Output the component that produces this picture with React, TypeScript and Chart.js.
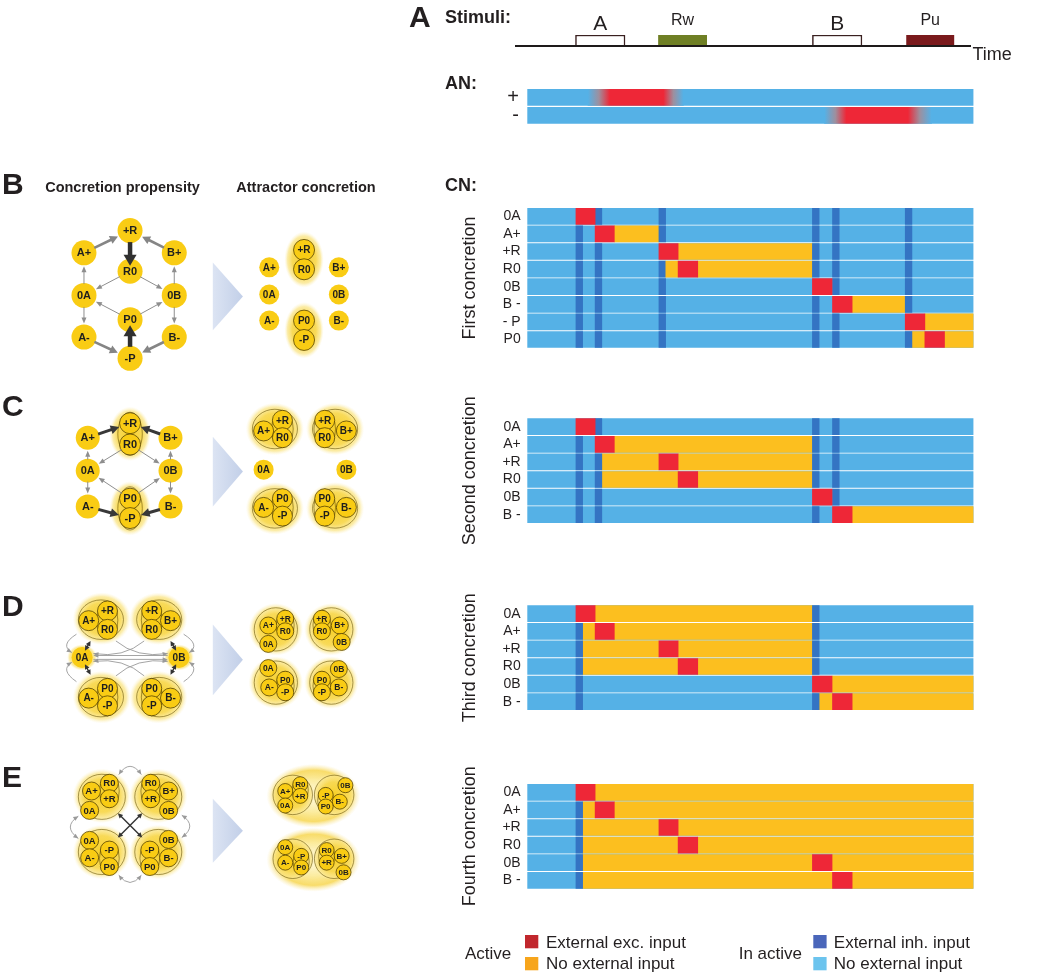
import React, { useEffect, useRef } from 'react';
import { Chart, registerables } from 'chart.js';

Chart.register(...registerables);

const FONT = '"Liberation Sans", Arial, Helvetica, sans-serif';
Chart.defaults.font.family = FONT;

// ---------------- colours ----------------
const C_IDLE = '#55B1E6';
const C_INH = '#3474C3';
const C_EXC = '#EE2737';
const C_ACT = '#FCBF1F';
const C_TEXT = '#231F20';
const C_NODE = '#F9CC14';

// ---------------- time axis ----------------
const X_LEFT = 527.3;
const X_RIGHT = 973.5;

// ---------------- stimuli ----------------
const stimLabels = ['A', 'Rw', 'B', 'Pu'];
const stimSpans: [number, number][] = [[10.8, 21.9], [29.4, 40.2], [63.9, 75.0], [85.0, 95.6]];
const stimFill = ['#FFFFFF', '#6F7F24', '#FFFFFF', '#7A1A1C'];

// ---------------- AN ----------------
const anRows = ['+', '-'];
const anRamps = [[13.6, 18.5, 30.5, 35.0], [66.6, 71.5, 85.3, 90.6]];

// ---------------- CN: first concretion ----------------
const rows1 = ['0A', 'A+', '+R', 'R0', '0B', 'B -', '- P', 'P0'];
const exc1: [number, number][] = [[10.9, 15.2], [15.2, 19.5], [29.5, 33.8], [33.8, 38.2], [63.9, 68.3], [68.4, 72.8], [84.7, 89.1], [89.1, 93.5]];
const act1: [number, number][][] = [
  [], [[19.5, 29.5]], [[33.8, 63.9]], [[30.9, 33.8], [38.2, 63.9]], [], [[72.8, 84.7]], [[89.1, 100]], [[86.2, 89.1], [93.5, 100]],
];
const inh1: [number, number][][] = [
  [[15.2, 16.7], [29.5, 31.0], [63.9, 65.4], [68.4, 69.9], [84.7, 86.2]],
  [[10.9, 12.4], [29.5, 31.0], [63.9, 65.4], [68.4, 69.9], [84.7, 86.2]],
  [[10.9, 12.4], [15.2, 16.7], [63.9, 65.4], [68.4, 69.9], [84.7, 86.2]],
  [[10.9, 12.4], [15.2, 16.7], [29.5, 30.9], [63.9, 65.4], [68.4, 69.9], [84.7, 86.2]],
  [[10.9, 12.4], [15.2, 16.7], [29.5, 31.0], [68.4, 69.9], [84.7, 86.2]],
  [[10.9, 12.4], [15.2, 16.7], [29.5, 31.0], [63.9, 65.4], [84.7, 86.2]],
  [[10.9, 12.4], [15.2, 16.7], [29.5, 31.0], [63.9, 65.4], [68.4, 69.9]],
  [[10.9, 12.4], [15.2, 16.7], [29.5, 31.0], [63.9, 65.4], [68.4, 69.9], [84.7, 86.2]],
];

// ---------------- CN: second concretion ----------------
const rows2 = ['0A', 'A+', '+R', 'R0', '0B', 'B -'];
const exc2: [number, number][] = [[10.9, 15.2], [15.2, 19.5], [29.5, 33.8], [33.8, 38.2], [63.9, 68.3], [68.4, 72.8]];
const act2: [number, number][][] = [
  [], [[19.5, 63.9]], [[16.7, 29.5], [33.8, 63.9]], [[16.7, 33.8], [38.2, 63.9]], [], [[72.8, 100]],
];
const inh2: [number, number][][] = [
  [[15.2, 16.7], [63.9, 65.4], [68.4, 69.9]],
  [[10.9, 12.4], [63.9, 65.4], [68.4, 69.9]],
  [[10.9, 12.4], [15.2, 16.7], [63.9, 65.4], [68.4, 69.9]],
  [[10.9, 12.4], [15.2, 16.7], [63.9, 65.4], [68.4, 69.9]],
  [[10.9, 12.4], [15.2, 16.7], [68.4, 69.9]],
  [[10.9, 12.4], [15.2, 16.7], [63.9, 65.4]],
];

// ---------------- CN: third concretion ----------------
const rows3 = ['0A', 'A+', '+R', 'R0', '0B', 'B -'];
const exc3: [number, number][] = [[10.9, 15.2], [15.2, 19.5], [29.5, 33.8], [33.8, 38.2], [63.9, 68.3], [68.4, 72.8]];
const act3: [number, number][][] = [
  [[15.2, 63.9]], [[12.4, 15.2], [19.5, 63.9]], [[12.4, 29.5], [33.8, 63.9]], [[12.4, 33.8], [38.2, 63.9]], [[68.3, 100]], [[65.4, 68.4], [72.8, 100]],
];
const inh3: [number, number][][] = [
  [[63.9, 65.4]], [[10.9, 12.4], [63.9, 65.4]], [[10.9, 12.4], [63.9, 65.4]], [[10.9, 12.4], [63.9, 65.4]], [[10.9, 12.4]], [[10.9, 12.4], [63.9, 65.4]],
];

// ---------------- CN: fourth concretion ----------------
const rows4 = ['0A', 'A+', '+R', 'R0', '0B', 'B -'];
const exc4: [number, number][] = [[10.9, 15.2], [15.2, 19.5], [29.5, 33.8], [33.8, 38.2], [63.9, 68.3], [68.4, 72.8]];
const act4: [number, number][][] = [
  [[15.2, 100]], [[12.4, 15.2], [19.5, 100]], [[12.4, 29.5], [33.8, 100]], [[12.4, 33.8], [38.2, 100]], [[12.4, 63.9], [68.3, 100]], [[12.4, 68.4], [72.8, 100]],
];
const inh4: [number, number][][] = [
  [], [[10.9, 12.4]], [[10.9, 12.4]], [[10.9, 12.4]], [[10.9, 12.4]], [[10.9, 12.4]],
];

// ---------------- legend ----------------
const legendTitles = ['Active', 'In active'];
const legendLabels = [['External exc. input', 'No external input'], ['External inh. input', 'No external input']];
const legendColors = [['#C1272D', '#F7A51C'], ['#4A66BA', '#6CC4EE']];

// ---------------- network diagrams ----------------
type Node = [string, number, number, number?];
type Ell = [number, number, number, number, number?];
type Edge = [string, string, string];
type Seg = [number, number, number, number, string];
type Curve = [number, number, number, number, number, number, string];
interface Diagram { nodes: Node[]; glows?: Ell[]; rings?: Ell[]; edges?: Edge[]; segs?: Seg[]; curves?: Curve[] }

const diagB1: Diagram = {
  nodes: [['+R', 125, 220], ['A+', 76, 243], ['B+', 172, 243], ['R0', 125, 262], ['0A', 76, 287], ['0B', 172, 287], ['P0', 125, 312], ['A-', 76, 330], ['B-', 172, 330], ['-P', 125, 352]],
  edges: [['A+', '+R', 'mid'], ['B+', '+R', 'mid'], ['+R', 'R0', 'bold'], ['R0', '0A', 'thin'], ['R0', '0B', 'thin'], ['0A', 'A+', 'thin'], ['0B', 'B+', 'thin'], ['0A', 'A-', 'thin'], ['0B', 'B-', 'thin'], ['P0', '0A', 'thin'], ['P0', '0B', 'thin'], ['A-', '-P', 'mid'], ['B-', '-P', 'mid'], ['-P', 'P0', 'bold']],
};
const diagB2: Diagram = {
  nodes: [['A+', 273, 258], ['B+', 347, 258], ['0A', 273, 286], ['0B', 347, 286], ['A-', 273, 313], ['B-', 347, 313], ['+R', 310, 240, 1], ['R0', 310, 260, 1], ['P0', 310, 313, 1], ['-P', 310, 333, 1]],
  glows: [[310, 250, 21, 30], [310, 323, 21, 30]],
};
const diagC1: Diagram = {
  nodes: [['+R', 125, 419, 1], ['R0', 125, 441, 1], ['A+', 80, 434], ['B+', 168, 434], ['0A', 80, 468], ['0B', 168, 468], ['A-', 80, 505], ['B-', 168, 505], ['P0', 125, 497, 1], ['-P', 125, 517, 1]],
  glows: [[125, 430, 22, 29], [125, 507, 22, 29]],
  rings: [[125, 430, 13, 23], [125, 507, 13, 23]],
  edges: [['A+', '+R', 'dark'], ['B+', '+R', 'dark'], ['A-', '-P', 'dark'], ['B-', '-P', 'dark'], ['R0', '0A', 'thin'], ['R0', '0B', 'thin'], ['0A', 'A+', 'thin'], ['0B', 'B+', 'thin'], ['0A', 'A-', 'thin'], ['0B', 'B-', 'thin'], ['P0', '0A', 'thin'], ['P0', '0B', 'thin']],
};
const diagC2: Diagram = {
  nodes: [['A+', 267, 427, 1], ['+R', 287, 416, 1], ['R0', 287, 434, 1], ['+R', 332, 416, 1], ['R0', 332, 434, 1], ['B+', 355, 427, 1], ['0A', 267, 467], ['0B', 355, 467], ['A-', 267, 506, 1], ['P0', 287, 497, 1], ['-P', 287, 515, 1], ['P0', 332, 497, 1], ['-P', 332, 515, 1], ['B-', 355, 506, 1]],
  glows: [[279, 425, 31, 28], [343, 425, 31, 28], [279, 507, 31, 28], [343, 507, 31, 28]],
  rings: [[279, 425, 24, 21], [343, 425, 24, 21], [279, 507, 24, 21], [343, 507, 24, 21], [287, 425, 11.5, 19.5], [332, 425, 11.5, 19.5], [287, 506, 11.5, 19.5], [332, 506, 11.5, 19.5]],
};
const diagD1: Diagram = {
  nodes: [['A+', 81, 623, 1], ['+R', 101, 613, 1], ['R0', 101, 632, 1], ['+R', 148, 613, 1], ['R0', 148, 632, 1], ['B+', 168, 623, 1], ['0A', 74, 661], ['0B', 177, 661], ['A-', 81, 703, 1], ['P0', 101, 693, 1], ['-P', 101, 711, 1], ['P0', 148, 693, 1], ['-P', 148, 711, 1], ['B-', 168, 703, 1]],
  glows: [[95, 621, 31, 28], [155, 621, 31, 28], [95, 702, 31, 28], [155, 702, 31, 28], [74, 661, 16, 14], [177, 661, 16, 14]],
  rings: [[94, 622, 24, 21], [156, 622, 24, 21], [94, 702, 24, 21], [156, 702, 24, 21], [101, 622.5, 11, 20], [148, 622.5, 11, 20], [101, 702, 11, 20], [148, 702, 11, 20]],
  segs: [[77, 654, 83, 644, 'dbl'], [77, 668, 83, 679, 'dbl'], [174, 654, 168, 644, 'dbl'], [174, 668, 168, 679, 'dbl'], [165, 659, 86, 659, 'gray'], [86, 663, 165, 663, 'gray']],
  curves: [
    [68, 637, 50, 648, 63, 656, 'gray'], [68, 686, 50, 674, 63, 666, 'gray'],
    [182, 637, 200, 648, 188, 656, 'gray'], [182, 686, 200, 674, 188, 666, 'gray'],
    [110, 644, 132, 662, 165, 657, 'gray'], [140, 644, 118, 662, 86, 657, 'gray'],
    [110, 680, 132, 661, 165, 665, 'gray'], [140, 680, 118, 661, 86, 665, 'gray'],
  ],
};
const diagD2: Diagram = {
  nodes: [['A+', 272, 628, 1], ['+R', 290, 621, 1], ['R0', 290, 634, 1], ['0A', 272, 647, 1], ['+R', 329, 621, 1], ['R0', 329, 634, 1], ['B+', 348, 628, 1], ['0B', 350, 645, 1], ['0A', 272, 672, 1], ['P0', 290, 684, 1], ['A-', 273, 692, 1], ['-P', 290, 697, 1], ['0B', 347, 673, 1], ['P0', 329, 684, 1], ['-P', 329, 697, 1], ['B-', 347, 692, 1]],
  glows: [[280, 632, 29, 28], [339, 632, 29, 28], [280, 687, 29, 28], [339, 687, 29, 28]],
  rings: [[280, 632, 23, 23], [339, 632, 23, 23], [280, 687, 23, 23], [339, 687, 23, 23], [290, 627.5, 9.5, 15.5], [329, 627.5, 9.5, 15.5], [290, 690.5, 9.5, 15.5], [329, 690.5, 9.5, 15.5]],
};
const diagE1: Diagram = {
  nodes: [['A+', 84, 799, 1], ['R0', 103, 791, 1], ['+R', 103, 807, 1], ['0A', 82, 819, 1], ['R0', 147, 791, 1], ['+R', 147, 807, 1], ['B+', 166, 799, 1], ['0B', 166, 819, 1], ['0A', 82, 850, 1], ['A-', 82, 868, 1], ['-P', 103, 860, 1], ['P0', 103, 877, 1], ['-P', 146, 860, 1], ['P0', 146, 877, 1], ['0B', 166, 849, 1], ['B-', 166, 868, 1]],
  glows: [[95, 804, 31, 29], [155, 804, 31, 29], [95, 862, 31, 29], [155, 862, 31, 29]],
  rings: [[95, 805, 25, 24], [155, 805, 25, 24], [95, 862, 25, 24], [155, 862, 25, 24], [103, 799, 10.5, 17.5], [147, 799, 10.5, 17.5], [103, 868.5, 10.5, 17.5], [146, 868.5, 10.5, 17.5]],
  segs: [[112, 822, 138, 847, 'dbl'], [138, 822, 112, 847, 'dbl']],
  curves: [[113, 782, 125, 765, 137, 782, 'gdbl'], [113, 886, 125, 901, 137, 886, 'gdbl'], [70, 825, 53, 836, 70, 848, 'gdbl'], [180, 824, 197, 835, 180, 847, 'gdbl']],
};
const diagE2: Diagram = {
  nodes: [['A+', 290, 799, 1], ['R0', 306, 792, 1], ['+R', 306, 804, 1], ['0A', 290, 814, 1], ['0B', 354, 793, 1], ['-P', 333, 803, 1], ['B-', 348, 810, 1], ['P0', 333, 815, 1], ['0A', 290, 857, 1], ['-P', 307, 866, 1], ['A-', 290, 873, 1], ['P0', 307, 878, 1], ['R0', 334, 860, 1], ['B+', 350, 866, 1], ['+R', 334, 873, 1], ['0B', 352, 883, 1]],
  glows: [[320, 804, 50, 34, 1], [320, 870, 50, 34, 1], [298, 803, 24, 23], [342, 803, 24, 23], [298, 869, 24, 23], [342, 869, 24, 23]],
  rings: [[298, 803, 21, 21], [342, 803, 21, 21], [298, 869, 21, 21], [342, 869, 21, 21], [306, 798, 8.5, 13.5], [333, 809, 8.5, 13.5], [307, 872, 8.5, 13.5], [334, 866.5, 8.5, 13.5]],
};

const diagrams: Diagram[] = [diagB1, diagB2, diagC1, diagC2, diagD1, diagD2, diagE1, diagE2];
const diagramLook = [
  { r: 12.5, rIn: 12.5, font: 11 }, { r: 10, rIn: 10.5, font: 10 },
  { r: 12, rIn: 10.5, font: 11 }, { r: 10, rIn: 10, font: 10 },
  { r: 10.5, rIn: 10, font: 10 }, { r: 8.5, rIn: 8.5, font: 8.5 },
  { r: 9, rIn: 9, font: 9.5 }, { r: 7.5, rIn: 7.5, font: 8 },
];
const blockArrows = [[213, 245, 253, 323], [213, 245, 433, 505], [213, 245, 627, 700], [213, 245, 807, 873]];

const EDGE_STYLES: Record<string, { color: string; lw: number; head: number; headW: number; both?: boolean; into?: number }> = {
  thin: { color: '#8E8E8E', lw: 1, head: 6, headW: 5 },
  mid: { color: '#858585', lw: 2.6, head: 8, headW: 8.5 },
  bold: { color: '#303030', lw: 4.5, head: 11, headW: 13, into: 7 },
  dark: { color: '#383838', lw: 3, head: 8.5, headW: 9 },
  dbl: { color: '#333333', lw: 1.4, head: 5, headW: 5, both: true },
  gray: { color: '#9A9A9A', lw: 0.9, head: 5, headW: 4.5 },
  gdbl: { color: '#9A9A9A', lw: 0.9, head: 5, headW: 4.5, both: true },
};

const ok = (...v: number[]) => v.every((n) => Number.isFinite(n));

// ---------------- drawing helpers ----------------
function arrowHead(ctx: CanvasRenderingContext2D, x: number, y: number, ang: number, L: number, W: number) {
  const c = Math.cos(ang), s = Math.sin(ang);
  ctx.beginPath();
  ctx.moveTo(x, y);
  ctx.lineTo(x - L * c + (W / 2) * s, y - L * s - (W / 2) * c);
  ctx.lineTo(x - L * c - (W / 2) * s, y - L * s + (W / 2) * c);
  ctx.closePath();
  ctx.fill();
}

function straightArrow(ctx: CanvasRenderingContext2D, x1: number, y1: number, x2: number, y2: number, key: string) {
  if (!ok(x1, y1, x2, y2)) return;
  const st = EDGE_STYLES[key];
  const ang = Math.atan2(y2 - y1, x2 - x1);
  const c = Math.cos(ang), s = Math.sin(ang);
  const k = st.head * 0.8;
  const sx = st.both ? x1 + c * k : x1, sy = st.both ? y1 + s * k : y1;
  const ex = x2 - c * k, ey = y2 - s * k;
  ctx.save();
  ctx.strokeStyle = st.color; ctx.fillStyle = st.color; ctx.lineWidth = st.lw;
  ctx.beginPath(); ctx.moveTo(sx, sy); ctx.lineTo(ex, ey); ctx.stroke();
  arrowHead(ctx, x2, y2, ang, st.head, st.headW);
  if (st.both) arrowHead(ctx, x1, y1, ang + Math.PI, st.head, st.headW);
  ctx.restore();
}

function curveArrow(ctx: CanvasRenderingContext2D, x1: number, y1: number, cx: number, cy: number, x2: number, y2: number, key: string) {
  if (!ok(x1, y1, cx, cy, x2, y2)) return;
  const st = EDGE_STYLES[key];
  ctx.save();
  ctx.strokeStyle = st.color; ctx.fillStyle = st.color; ctx.lineWidth = st.lw;
  ctx.beginPath(); ctx.moveTo(x1, y1); ctx.quadraticCurveTo(cx, cy, x2, y2); ctx.stroke();
  arrowHead(ctx, x2, y2, Math.atan2(y2 - cy, x2 - cx), st.head, st.headW);
  if (st.both) arrowHead(ctx, x1, y1, Math.atan2(y1 - cy, x1 - cx), st.head, st.headW);
  ctx.restore();
}

function glow(ctx: CanvasRenderingContext2D, cx: number, cy: number, rx: number, ry: number, hollow?: number) {
  if (!ok(cx, cy, rx, ry) || rx <= 0 || ry <= 0) return;
  ctx.save();
  ctx.translate(cx, cy);
  ctx.scale(1, ry / rx);
  const g = ctx.createRadialGradient(0, 0, 0, 0, 0, rx);
  if (hollow) {
    g.addColorStop(0, 'rgba(255,252,235,1)');
    g.addColorStop(0.5, 'rgba(251,234,150,0.9)');
    g.addColorStop(0.8, 'rgba(247,214,80,0.85)');
    g.addColorStop(1, 'rgba(250,232,160,0)');
  } else {
    g.addColorStop(0, 'rgba(247,208,40,1)');
    g.addColorStop(0.6, 'rgba(248,216,80,0.95)');
    g.addColorStop(0.84, 'rgba(250,228,130,0.7)');
    g.addColorStop(1, 'rgba(252,242,200,0)');
  }
  ctx.fillStyle = g;
  ctx.beginPath(); ctx.arc(0, 0, rx, 0, Math.PI * 2); ctx.fill();
  ctx.restore();
}

const diagramPlugin = {
  id: 'diagrams',
  beforeDatasetsDraw(chart: any) {
    const { ctx } = chart;
    const xs = chart.scales.x, ys = chart.scales.y;
    const px = (v: number) => xs.getPixelForValue(v);
    const py = (v: number) => ys.getPixelForValue(v);
    ctx.save();
    blockArrows.forEach(([x0, x1, y0, y1]) => {
      if (!ok(px(x0), px(x1), py(y0), py(y1))) return;
      const g = ctx.createLinearGradient(px(x0), 0, px(x1), 0);
      g.addColorStop(0, '#DCE4F3');
      g.addColorStop(1, '#C2CFE8');
      ctx.fillStyle = g;
      ctx.beginPath();
      ctx.moveTo(px(x0), py(y0));
      ctx.lineTo(px(x1), py((y0 + y1) / 2));
      ctx.lineTo(px(x0), py(y1));
      ctx.closePath();
      ctx.fill();
    });
    diagrams.forEach((d) => {
      (d.glows || []).forEach(([cx, cy, rx, ry, h]) => glow(ctx, px(cx), py(cy), px(cx + rx) - px(cx), px(cx + ry) - px(cx), h));
      (d.rings || []).forEach(([cx, cy, rx, ry]) => {
        const a = px(cx), b = py(cy), rxp = px(cx + rx) - a, ryp = px(cx + ry) - a;
        if (!ok(a, b, rxp, ryp) || rxp <= 0 || ryp <= 0) return;
        ctx.strokeStyle = 'rgba(95,75,0,0.7)';
        ctx.lineWidth = 0.8;
        ctx.beginPath();
        ctx.ellipse(a, b, rxp, ryp, 0, 0, Math.PI * 2);
        ctx.stroke();
      });
    });
    ctx.restore();
  },
  afterDatasetsDraw(chart: any) {
    const { ctx } = chart;
    const xs = chart.scales.x, ys = chart.scales.y;
    const px = (v: number) => xs.getPixelForValue(v);
    const py = (v: number) => ys.getPixelForValue(v);
    diagrams.forEach((d, di) => {
      const look = diagramLook[di];
      const find = (lab: string) => d.nodes.find((n) => n[0] === lab)!;
      (d.edges || []).forEach(([a, b, key]) => {
        const na = find(a), nb = find(b);
        const x1 = px(na[1]), y1 = py(na[2]), x2 = px(nb[1]), y2 = py(nb[2]);
        const ra = na[3] ? look.rIn : look.r, rb = nb[3] ? look.rIn : look.r;
        const len = Math.hypot(x2 - x1, y2 - y1);
        if (!ok(len) || len === 0) return;
        const ux = (x2 - x1) / len, uy = (y2 - y1) / len;
        const st = EDGE_STYLES[key];
        const endTrim = st.into ? rb - st.into : rb + 1;
        straightArrow(ctx, x1 + ux * (ra - 1), y1 + uy * (ra - 1), x2 - ux * endTrim, y2 - uy * endTrim, key);
      });
      (d.segs || []).forEach(([x1, y1, x2, y2, key]) => straightArrow(ctx, px(x1), py(y1), px(x2), py(y2), key));
      (d.curves || []).forEach(([x1, y1, cx, cy, x2, y2, key]) => curveArrow(ctx, px(x1), py(y1), px(cx), py(cy), px(x2), py(y2), key));
      ctx.save();
      ctx.fillStyle = '#1E1E1E';
      ctx.textAlign = 'center';
      ctx.textBaseline = 'middle';
      ctx.font = `bold ${look.font}px ${FONT}`;
      d.nodes.forEach(([lab, x, y]) => ctx.fillText(lab, px(x), py(y) + 0.5));
      ctx.restore();
    });
  },
};

// ---------------- raster plugins ----------------
const rotTitlePlugin = {
  id: 'rotTitle',
  afterDraw(chart: any, _a: any, opts: any) {
    if (!opts || !opts.text) return;
    const { ctx, chartArea } = chart;
    ctx.save();
    ctx.translate(475, (chartArea.top + chartArea.bottom) / 2);
    ctx.rotate(-Math.PI / 2);
    ctx.font = `18px ${FONT}`;
    ctx.fillStyle = C_TEXT;
    ctx.textAlign = 'center';
    ctx.textBaseline = 'alphabetic';
    ctx.fillText(opts.text, 0, 0);
    ctx.restore();
  },
};

const LEG_X = [{ title: 465, box: 525, text: 546 }, { title: 738.7, box: 813.3, text: 833.8 }];
const legendPlugin = {
  id: 'cnLegend',
  afterDraw(chart: any, _a: any, opts: any) {
    if (!opts || !opts.show) return;
    const { ctx } = chart;
    const top = opts.top;
    ctx.save();
    ctx.font = `17px ${FONT}`;
    ctx.textBaseline = 'alphabetic';
    ctx.textAlign = 'left';
    legendTitles.forEach((t, g) => {
      const gx = LEG_X[g];
      ctx.fillStyle = C_TEXT;
      ctx.fillText(t, gx.title, 952.7 + 6.1 - top);
      legendLabels[g].forEach((lab, k) => {
        ctx.fillStyle = legendColors[g][k];
        ctx.fillRect(gx.box, (k ? 957 : 935) - top, 13.3, 13.3);
        ctx.fillStyle = C_TEXT;
        ctx.fillText(lab, gx.text, (k ? 963.3 : 941.7) + 6.1 - top);
      });
    });
    ctx.restore();
  },
};

const stimPlugin = {
  id: 'stimText',
  afterDatasetsDraw(chart: any) {
    const { ctx } = chart;
    const xs = chart.scales.x;
    ctx.save();
    ctx.fillStyle = C_TEXT;
    ctx.textAlign = 'center';
    ctx.textBaseline = 'alphabetic';
    stimLabels.forEach((lab, i) => {
      const big = lab.length === 1;
      ctx.font = `${big ? 21 : 16}px ${FONT}`;
      ctx.fillText(lab, xs.getPixelForValue((stimSpans[i][0] + stimSpans[i][1]) / 2), big ? 29.5 : 25);
    });
    ctx.font = `18px ${FONT}`;
    ctx.textAlign = 'left';
    ctx.fillText('Time', xs.getPixelForValue(xs.max) + 2, 60);
    ctx.restore();
  },
};

// AN ramps: each bar gets its own horizontal gradient built from the x scale
function anGradient(chart: any, i: number) {
  const xs = chart.scales && chart.scales.x;
  const r = anRamps[i];
  if (!xs || !r) return null;
  const x0 = xs.getPixelForValue(r[0]), x3 = xs.getPixelForValue(r[3]);
  if (!ok(x0, x3) || x3 <= x0) return null;
  const g = chart.ctx.createLinearGradient(x0, 0, x3, 0);
  const f = (v: number) => (v - r[0]) / (r[3] - r[0]);
  g.addColorStop(0, C_IDLE);
  g.addColorStop(f((r[0] + r[1]) / 2), '#9E8F9E');
  g.addColorStop(f(r[1]), C_EXC);
  g.addColorStop(f(r[2]), C_EXC);
  g.addColorStop(f((r[2] + r[3]) / 2), '#9E8F9E');
  g.addColorStop(1, C_IDLE);
  return g;
}

const anGradientPlugin = {
  id: 'anGradient',
  beforeDatasetsDraw(chart: any) {
    const meta = chart.getDatasetMeta(0);
    if (!meta) return;
    meta.data.forEach((el: any, i: number) => {
      const g = anGradient(chart, i);
      if (g && el.options) el.options = Object.assign({}, el.options, { backgroundColor: g });
    });
  },
};

// ---------------- chart configs ----------------
const PITCH = 17.6;
const BAR = 16;

function rasterGeom(rowsTop: number, n: number, toBottom?: number) {
  const areaTop = rowsTop - (PITCH - BAR) / 2;
  const canvasTop = Math.floor(areaTop - 20);
  const areaBottom = areaTop + n * PITCH;
  const height = toBottom ? toBottom - canvasTop : Math.ceil(areaBottom + 20 - canvasTop);
  return { top: canvasTop, height, padTop: areaTop - canvasTop, padBottom: canvasTop + height - areaBottom };
}

function rasterConfig(rows: string[], exc: [number, number][], act: [number, number][][], inh: [number, number][][], title: string, g: any, legend: boolean) {
  const flat = (segs: [number, number][][]) => segs.flatMap((list, i) => list.map((s) => ({ x: s, y: rows[i] })));
  return {
    type: 'bar',
    data: {
      labels: rows,
      datasets: [
        { data: exc.map((s, i) => ({ x: s, y: rows[i] })), backgroundColor: C_EXC },
        { data: flat(inh), backgroundColor: C_INH },
        { data: flat(act), backgroundColor: C_ACT },
        { data: rows.map((r) => ({ x: [0, 100], y: r })), backgroundColor: C_IDLE },
      ],
    },
    options: {
      indexAxis: 'y',
      responsive: false,
      animation: false,
      events: [],
      layout: { padding: { left: 440, right: 1050 - X_RIGHT, top: g.padTop, bottom: g.padBottom } },
      datasets: { bar: { grouped: false, barThickness: BAR, borderWidth: 0, borderSkipped: false } },
      plugins: { legend: { display: false }, tooltip: { enabled: false }, rotTitle: { text: title }, cnLegend: { show: legend, top: g.top } },
      scales: {
        x: { type: 'linear', min: 0, max: 100, display: false },
        y: {
          type: 'category',
          offset: true,
          grid: { display: false, drawTicks: false },
          border: { display: false },
          ticks: { color: C_TEXT, font: { size: 14 }, padding: 6.6, autoSkip: false },
          afterFit: (s: any) => { s.width = X_LEFT - 440; },
        },
      },
    },
    plugins: [rotTitlePlugin, legendPlugin],
  };
}

function stimConfig() {
  const lo = -2.6, hi = 99.3;
  const unit = (X_RIGHT - X_LEFT) / 100;
  return {
    type: 'bar',
    data: {
      labels: ['Stimuli'],
      datasets: [{
        data: stimSpans.map((s) => ({ x: s, y: 'Stimuli' })),
        backgroundColor: stimFill,
        borderColor: stimFill.map((c) => (c === '#FFFFFF' ? '#3A2020' : c)),
        borderWidth: stimFill.map((c) => (c === '#FFFFFF' ? 1.5 : 0)),
        borderSkipped: 'bottom',
        barPercentage: 1,
        categoryPercentage: 1,
      }],
    },
    options: {
      indexAxis: 'y',
      responsive: false,
      animation: false,
      events: [],
      layout: { padding: { left: X_LEFT + lo * unit, right: 1050 - (X_LEFT + hi * unit), top: 35, bottom: 24 } },
      plugins: { legend: { display: false }, tooltip: { enabled: false } },
      scales: {
        x: { type: 'linear', min: lo, max: hi, grid: { display: false, drawTicks: false }, ticks: { display: false }, border: { display: true, color: '#1E1A1A', width: 2, z: 1 } },
        y: { type: 'category', display: false },
      },
    },
    plugins: [stimPlugin],
  };
}

// AN canvas: top 60, height 90 -> rows area 88.3 .. 124.3 (pitch 18)
const AN_TOP = 60;
const AN_H = 90;
function anConfig() {
  const areaTop = 88.3, areaBottom = 124.3;
  return {
    type: 'bar',
    data: {
      labels: anRows,
      datasets: [
        {
          data: anRamps.map((r, i) => ({ x: [r[0], r[3]], y: anRows[i] })),
          backgroundColor: (c: any) => anGradient(c.chart, c.dataIndex) || C_EXC,
        },
        { data: anRows.map((r) => ({ x: [0, 100], y: r })), backgroundColor: C_IDLE },
      ],
    },
    options: {
      indexAxis: 'y',
      responsive: false,
      animation: false,
      events: [],
      layout: { padding: { left: 440, right: 1050 - X_RIGHT, top: areaTop - AN_TOP, bottom: AN_TOP + AN_H - areaBottom } },
      datasets: { bar: { grouped: false, barThickness: 16, borderWidth: 0 } },
      plugins: { legend: { display: false }, tooltip: { enabled: false } },
      scales: {
        x: { type: 'linear', min: 0, max: 100, display: false },
        y: {
          type: 'category',
          offset: true,
          grid: { display: false, drawTicks: false },
          border: { display: false },
          ticks: { color: C_TEXT, font: { size: 20 }, padding: 8.3, autoSkip: false },
          afterFit: (s: any) => { s.width = X_LEFT - 440; },
        },
      },
    },
    plugins: [anGradientPlugin],
  };
}

function diagramConfig() {
  return {
    type: 'scatter',
    data: {
      datasets: diagrams.map((d, di) => ({
        data: d.nodes.map((n) => ({ x: n[1], y: n[2] })),
        pointRadius: (c: any) => { const n = d.nodes[c.dataIndex]; return n && n[3] ? diagramLook[di].rIn : diagramLook[di].r; },
        pointBackgroundColor: C_NODE,
        pointBorderColor: (c: any) => { const n = d.nodes[c.dataIndex]; return n && n[3] ? 'rgba(80,62,0,0.85)' : C_NODE; },
        pointBorderWidth: (c: any) => { const n = d.nodes[c.dataIndex]; return n && n[3] ? 0.9 : 0; },
      })),
    },
    options: {
      responsive: false,
      animation: false,
      events: [],
      layout: { padding: 0 },
      plugins: { legend: { display: false }, tooltip: { enabled: false } },
      scales: {
        x: { type: 'linear', min: 0, max: 420, display: false },
        y: { type: 'linear', min: 160, max: 940, reverse: true, display: false },
      },
    },
    plugins: [diagramPlugin],
  };
}

// ---------------- components ----------------
function ChartBox({ left, top, width, height, build }: { left: number; top: number; width: number; height: number; build: () => any }) {
  const ref = useRef<HTMLCanvasElement>(null);
  useEffect(() => {
    if (!ref.current) return;
    let chart: Chart | null = null;
    try {
      chart = new Chart(ref.current, build());
    } catch (e) {
      console.error(e);
    }
    return () => { if (chart) chart.destroy(); };
  }, []);
  return <canvas ref={ref} width={width} height={height} style={{ position: 'absolute', left, top, width, height }} />;
}

function Txt({ t, x, cy, size, bold, center }: { t: string; x: number; cy: number; size: number; bold?: boolean; center?: boolean }) {
  return (
    <div
      style={{
        position: 'absolute', left: x, top: cy - size * 0.4885, fontSize: size, lineHeight: `${size}px`,
        fontWeight: bold ? 700 : 400, fontFamily: FONT, whiteSpace: 'nowrap', color: C_TEXT,
        transform: center ? 'translateX(-50%)' : undefined,
      }}
    >
      {t}
    </div>
  );
}

const headings = [
  { t: 'A', x: 409, cy: 17, size: 30, bold: true },
  { t: 'Stimuli:', x: 445, cy: 16.7, size: 18, bold: true },
  { t: 'AN:', x: 445, cy: 83, size: 18, bold: true },
  { t: 'CN:', x: 445, cy: 185, size: 18, bold: true },
  { t: 'B', x: 2, cy: 184, size: 30, bold: true },
  { t: 'C', x: 2, cy: 405.7, size: 30, bold: true },
  { t: 'D', x: 2, cy: 606, size: 30, bold: true },
  { t: 'E', x: 2, cy: 776.5, size: 30, bold: true },
  { t: 'Concretion propensity', x: 122.5, cy: 186.7, size: 14.5, bold: true, center: true },
  { t: 'Attractor concretion', x: 306, cy: 186.7, size: 14.5, bold: true, center: true },
];

export default function App() {
  const g1 = rasterGeom(208.3, rows1.length);
  const g2 = rasterGeom(418.7, rows2.length);
  const g3 = rasterGeom(605.7, rows3.length);
  const g4 = rasterGeom(784.3, rows4.length, 978);
  return (
    <div style={{ position: 'absolute', left: 0, top: 0, width: 1050, height: 978, background: '#FFFFFF', overflow: 'hidden' }}>
      <ChartBox left={0} top={160} width={420} height={780} build={diagramConfig} />
      <ChartBox left={0} top={0} width={1050} height={70} build={stimConfig} />
      <ChartBox left={0} top={AN_TOP} width={1050} height={AN_H} build={anConfig} />
      <ChartBox left={0} top={g1.top} width={1050} height={g1.height} build={() => rasterConfig(rows1, exc1, act1, inh1, 'First concretion', g1, false)} />
      <ChartBox left={0} top={g2.top} width={1050} height={g2.height} build={() => rasterConfig(rows2, exc2, act2, inh2, 'Second concretion', g2, false)} />
      <ChartBox left={0} top={g3.top} width={1050} height={g3.height} build={() => rasterConfig(rows3, exc3, act3, inh3, 'Third concretion', g3, false)} />
      <ChartBox left={0} top={g4.top} width={1050} height={g4.height} build={() => rasterConfig(rows4, exc4, act4, inh4, 'Fourth concretion', g4, true)} />
      {headings.map((h, i) => <Txt key={i} {...h} />)}
    </div>
  );
}
